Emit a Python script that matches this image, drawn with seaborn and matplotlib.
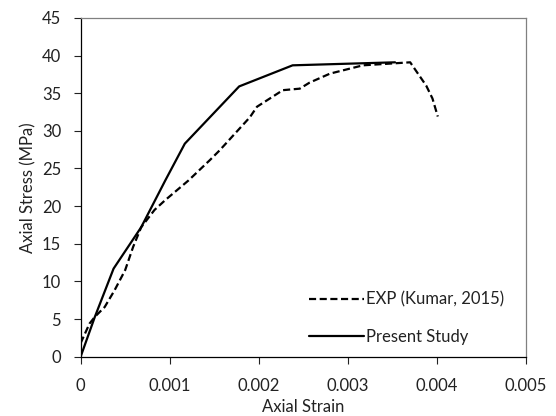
import matplotlib
matplotlib.use("Agg")
import matplotlib.pyplot as plt
import seaborn as sns
import pandas as pd

exp_strain = [0.0, 0.0001, 0.00016, 0.00027, 0.00038, 0.0005, 0.00059, 0.00068, 0.00083,
              0.00095, 0.00121, 0.00145, 0.00156, 0.0019, 0.00198, 0.00227, 0.00246,
              0.00257, 0.0028, 0.00317, 0.0037, 0.00388, 0.00395, 0.00401]
exp_stress = [1.8, 4.4, 5.3, 6.6, 8.8, 11.5, 14.6, 17.2, 19.5,
              20.8, 23.4, 26.1, 27.4, 31.8, 33.2, 35.4, 35.6,
              36.4, 37.6, 38.7, 39.1, 36.0, 34.3, 31.9]

ps_strain = [0.0, 0.00016, 0.00037, 0.00068, 0.00095, 0.00117, 0.00178, 0.00238, 0.00353]
ps_stress = [0.0, 5.3, 11.7, 17.2, 23.4, 28.3, 35.9, 38.7, 39.1]

x_ticks = [0, 0.001, 0.002, 0.003, 0.004, 0.005]
x_tick_labels = ["0", "0.001", "0.002", "0.003", "0.004", "0.005"]
y_ticks = [0, 5, 10, 15, 20, 25, 30, 35, 40, 45]

sns.set_theme(style="white")
plt.rcParams['font.family'] = ['Lato', 'DejaVu Sans']

df_exp = pd.DataFrame({"strain": exp_strain, "stress": exp_stress})
df_ps = pd.DataFrame({"strain": ps_strain, "stress": ps_stress})

fig = plt.figure(figsize=(5.56, 4.16), dpi=100)
ax = fig.add_axes([0.145, 0.1425, 0.801, 0.8145])

sns.lineplot(data=df_exp, x="strain", y="stress", sort=False, estimator=None, ax=ax,
             color="black", linewidth=1.6, linestyle=(0, (3.2, 1.6)), label="EXP (Kumar, 2015)")
sns.lineplot(data=df_ps, x="strain", y="stress", sort=False, estimator=None, ax=ax,
             color="black", linewidth=1.6, label="Present Study")

fs = 12
ax.set_xlim(0, 0.005)
ax.set_ylim(0, 45)
ax.set_xticks(x_ticks)
ax.set_xticklabels(x_tick_labels)
ax.set_yticks(y_ticks)
ax.tick_params(axis="both", which="major", labelsize=fs, colors="#222222",
               direction="out", length=5, width=0.8, pad=9, bottom=True, left=True)
ax.tick_params(axis="x", pad=10)
for s in ["top", "right"]:
    ax.spines[s].set_color("#808080")
    ax.spines[s].set_linewidth(0.9)
for s in ["left", "bottom"]:
    ax.spines[s].set_color("black")
    ax.spines[s].set_linewidth(0.9)

ax.set_xlabel("Axial Strain", fontsize=fs, color="#222222", labelpad=4)
ax.set_ylabel("Axial Stress (MPa)", fontsize=fs, color="#222222", labelpad=4)

leg = ax.legend(loc="lower right", bbox_to_anchor=(0.985, -0.01), frameon=False,
                fontsize=fs, handlelength=3.3, handletextpad=0.15, labelspacing=1.3)
for t in leg.get_texts():
    t.set_color("#222222")

fig.savefig("out.png", dpi=100)
